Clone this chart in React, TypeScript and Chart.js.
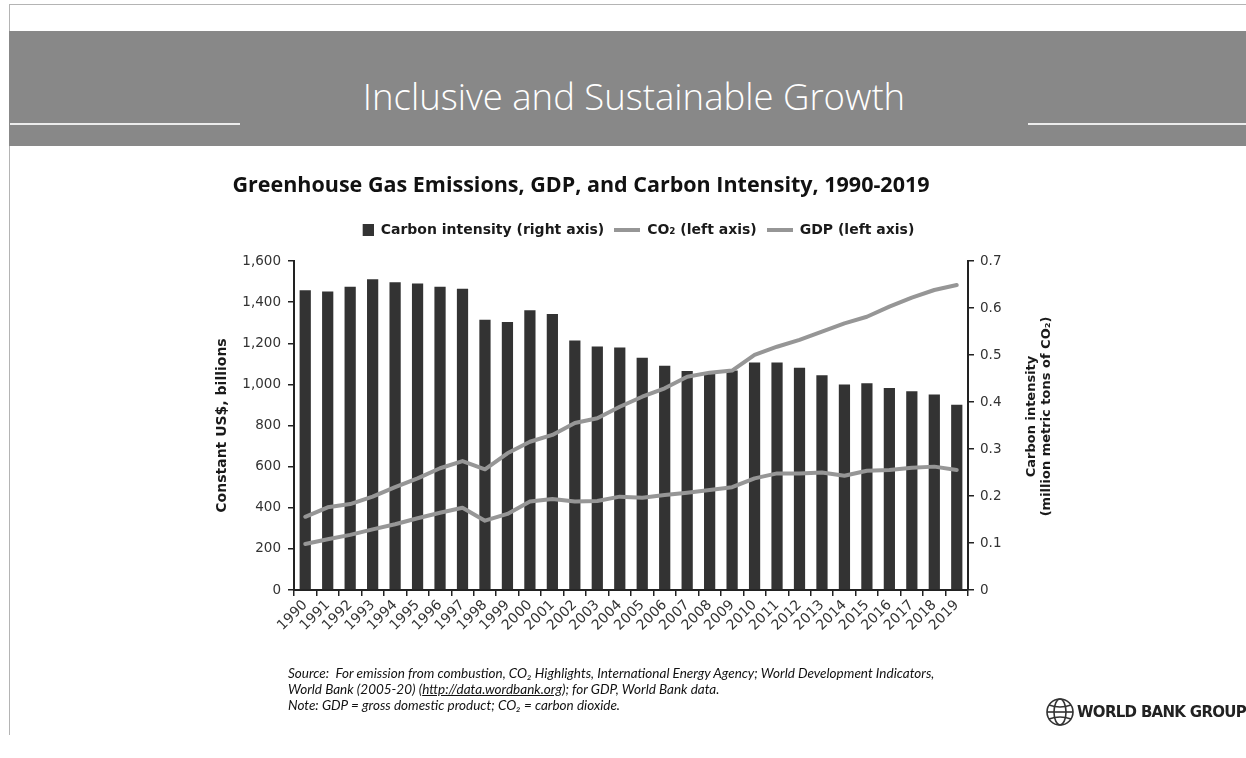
import React, { useEffect, useRef } from 'react';
import { Chart, registerables } from 'chart.js';

Chart.register(...registerables);

// ---------- data ----------
const years = [
  '1990', '1991', '1992', '1993', '1994', '1995', '1996', '1997', '1998', '1999',
  '2000', '2001', '2002', '2003', '2004', '2005', '2006', '2007', '2008', '2009',
  '2010', '2011', '2012', '2013', '2014', '2015', '2016', '2017', '2018', '2019',
];
const carbonIntensity = [
  0.638, 0.635, 0.645, 0.661, 0.655, 0.652, 0.645, 0.641, 0.575, 0.570,
  0.595, 0.587, 0.531, 0.518, 0.516, 0.494, 0.477, 0.466, 0.462, 0.467,
  0.484, 0.484, 0.473, 0.457, 0.437, 0.440, 0.430, 0.423, 0.416, 0.394,
];
const co2 = [
  224, 247, 268, 295, 320, 349, 376, 400, 337, 370,
  430, 443, 430, 433, 454, 449, 462, 473, 486, 500,
  543, 567, 567, 571, 556, 580, 584, 595, 600, 584,
];
const gdp = [
  356, 402, 418, 454, 500, 543, 592, 627, 587, 665,
  721, 754, 812, 835, 891, 940, 981, 1037, 1057, 1067,
  1143, 1183, 1216, 1256, 1297, 1329, 1378, 1422, 1459, 1483,
];
const leftTickValues = [0, 200, 400, 600, 800, 1000, 1200, 1400, 1600];
const leftTickLabels = ['0', '200', '400', '600', '800', '1,000', '1,200', '1,400', '1,600'];
const rightTickValues = [0, 0.1, 0.2, 0.3, 0.4, 0.5, 0.6, 0.7];
const rightTickLabels = ['0', '0.1', '0.2', '0.3', '0.4', '0.5', '0.6', '0.7'];
const seriesNames = ['Carbon intensity (right axis)', 'CO\u2082 (left axis)', 'GDP (left axis)'];
const chartTitle = 'Greenhouse Gas Emissions, GDP, and Carbon Intensity, 1990-2019';
const leftAxisTitle = 'Constant US$, billions';
const rightAxisTitle = ['Carbon intensity', '(million metric tons of CO\u2082)'];
const slideTitle = 'Inclusive and Sustainable Growth';
const logoText = 'WORLD BANK GROUP';

// ---------- styles ----------
const BAR_COLOR = '#333333';
const LINE_COLOR = '#969696';
const AXIS_COLOR = '#222222';
const TEXT_COLOR = '#1a1a1a';
const TICK_COLOR = '#333333';
const SANS = '"DejaVu Sans", sans-serif';
const TITLE_FONT = '"Open Sans", "Noto Sans", sans-serif';
const NOTE_FONT = 'Lato, "Open Sans", sans-serif';

const axisTitlePlugin = {
  id: 'axisTitles',
  afterDraw(chart: any) {
    const { ctx, chartArea } = chart;
    const cy = (chartArea.top + chartArea.bottom) / 2;
    ctx.save();
    ctx.fillStyle = TEXT_COLOR;
    ctx.textAlign = 'center';
    ctx.textBaseline = 'middle';
    ctx.font = 'bold 14px ' + SANS;
    ctx.save();
    ctx.translate(chartArea.left - 72, cy);
    ctx.rotate(-Math.PI / 2);
    ctx.fillText(leftAxisTitle, 0, 0);
    ctx.restore();
    ctx.font = 'bold 13px ' + SANS;
    ctx.save();
    ctx.translate(chartArea.right + 71, cy - 9);
    ctx.rotate(-Math.PI / 2);
    rightAxisTitle.forEach((t, i) => ctx.fillText(t, 0, (i - 0.5) * 15));
    ctx.restore();
    ctx.restore();
  },
};

function makeIcon(w: number, h: number, draw: (g: CanvasRenderingContext2D) => void) {
  const c = document.createElement('canvas');
  c.width = w;
  c.height = h;
  const g = c.getContext('2d')!;
  draw(g);
  return c;
}

function GreenhouseChart() {
  const ref = useRef<HTMLCanvasElement>(null);
  useEffect(() => {
    const canvas = ref.current!;
    const squareIcon = makeIcon(26, 12, (g) => {
      g.fillStyle = BAR_COLOR;
      g.fillRect(15, 0, 11, 12);
    });
    const lineIcon = makeIcon(26, 4, (g) => {
      g.fillStyle = LINE_COLOR;
      g.fillRect(0, 0, 26, 4);
    });
    const chart = new Chart(canvas, {
      type: 'bar',
      data: {
        labels: years,
        datasets: [
          {
            type: 'bar',
            label: seriesNames[0],
            data: carbonIntensity,
            yAxisID: 'yRight',
            backgroundColor: BAR_COLOR,
            barPercentage: 0.5,
            categoryPercentage: 1,
            order: 2,
          },
          {
            type: 'line',
            label: seriesNames[1],
            data: co2,
            yAxisID: 'yLeft',
            borderColor: LINE_COLOR,
            borderWidth: 4,
            pointRadius: 0,
            borderJoinStyle: 'round',
            borderCapStyle: 'round',
            order: 1,
          },
          {
            type: 'line',
            label: seriesNames[2],
            data: gdp,
            yAxisID: 'yLeft',
            borderColor: LINE_COLOR,
            borderWidth: 4,
            pointRadius: 0,
            borderJoinStyle: 'round',
            borderCapStyle: 'round',
            order: 1,
          },
        ] as any,
      },
      options: {
        responsive: false,
        animation: false,
        devicePixelRatio: 1,
        events: [],
        layout: { padding: { top: 0, left: 0, right: 84, bottom: 0 } },
        plugins: {
          tooltip: { enabled: false },
          title: {
            display: true,
            text: chartTitle,
            color: '#111111',
            font: { family: TITLE_FONT, size: 21.5, weight: 'bold', lineHeight: 1.2 },
            padding: { top: 173, bottom: 14.2 },
          },
          subtitle: {
            display: true,
            text: '',
            weight: 500,
            fullSize: false,
            font: { size: 14, lineHeight: 1 },
            padding: 0,
          } as any,
          legend: {
            display: true,
            position: 'top',
            fullSize: false,
            labels: {
              usePointStyle: true,
              pointStyleWidth: 26,
              boxHeight: 14,
              padding: 10,
              color: TEXT_COLOR,
              font: { family: SANS, size: 14, weight: 'bold' },
              generateLabels: () => [
                { text: seriesNames[0], pointStyle: squareIcon, fillStyle: BAR_COLOR, strokeStyle: BAR_COLOR, lineWidth: 0, hidden: false, datasetIndex: 0, fontColor: TEXT_COLOR },
                { text: seriesNames[1], pointStyle: lineIcon, fillStyle: LINE_COLOR, strokeStyle: LINE_COLOR, lineWidth: 0, hidden: false, datasetIndex: 1, fontColor: TEXT_COLOR },
                { text: seriesNames[2], pointStyle: lineIcon, fillStyle: LINE_COLOR, strokeStyle: LINE_COLOR, lineWidth: 0, hidden: false, datasetIndex: 2, fontColor: TEXT_COLOR },
              ] as any,
            },
          } as any,
        },
        scales: {
          x: {
            type: 'category',
            offset: true,
            grid: {
              display: true,
              offset: true,
              drawOnChartArea: false,
              drawTicks: true,
              tickLength: 6,
              color: AXIS_COLOR,
              lineWidth: 1.5,
            },
            border: { display: true, color: AXIS_COLOR, width: 2 },
            ticks: {
              autoSkip: false,
              maxRotation: 45,
              minRotation: 45,
              padding: 1,
              color: TICK_COLOR,
              font: { family: SANS, size: 14 },
            },
            afterFit: (s: any) => { s.height = 758 - 590; },
          },
          yLeft: {
            type: 'linear',
            position: 'left',
            min: 0,
            max: 1600,
            afterBuildTicks: (s: any) => { s.ticks = leftTickValues.map((v) => ({ value: v })); },
            grid: {
              display: true,
              drawOnChartArea: false,
              drawTicks: true,
              tickLength: 6,
              color: AXIS_COLOR,
              lineWidth: 1.5,
            },
            border: { display: true, color: AXIS_COLOR, width: 2 },
            ticks: {
              padding: 7,
              color: TICK_COLOR,
              font: { family: SANS, size: 13.5 },
              callback: (_v: any, i: number) => leftTickLabels[i],
            },
            afterFit: (s: any) => { s.width = 294; },
          },
          yRight: {
            type: 'linear',
            position: 'right',
            min: 0,
            max: 0.7,
            afterBuildTicks: (s: any) => { s.ticks = rightTickValues.map((v) => ({ value: v })); },
            grid: {
              display: true,
              drawOnChartArea: false,
              drawTicks: true,
              tickLength: 6,
              color: AXIS_COLOR,
              lineWidth: 1.5,
            },
            border: { display: true, color: AXIS_COLOR, width: 2 },
            ticks: {
              padding: 6,
              color: TICK_COLOR,
              font: { family: SANS, size: 13.5 },
              callback: (_v: any, i: number) => rightTickLabels[i],
            },
            afterFit: (s: any) => { s.width = 1162 - 968; },
          },
        },
      } as any,
      plugins: [axisTitlePlugin],
    });
    return () => chart.destroy();
  }, []);
  return (
    <canvas
      ref={ref}
      width={1246}
      height={758}
      style={{ position: 'absolute', left: 0, top: 0, width: 1246, height: 758 }}
    />
  );
}

export default function App() {
  return (
    <div
      style={{
        position: 'absolute',
        left: 0,
        top: 0,
        width: 1246,
        height: 758,
        background: '#ffffff',
        overflow: 'hidden',
      }}
    >
      <div style={{ position: 'absolute', left: 9, top: 4, width: 1237, height: 1, background: '#b4b4b4' }} />
      <div style={{ position: 'absolute', left: 9, top: 4, width: 1, height: 731, background: '#b4b4b4' }} />
      <div style={{ position: 'absolute', left: 9, top: 31, width: 1237, height: 115, background: '#888888' }} />
      <div
        style={{
          position: 'absolute',
          left: 0,
          top: 73,
          width: 1268,
          height: 46,
          lineHeight: '46px',
          textAlign: 'center',
          color: '#ffffff',
          fontFamily: TITLE_FONT,
          fontWeight: 300,
          fontSize: 36.5,
          whiteSpace: 'nowrap',
        }}
      >
        {slideTitle}
      </div>
      <div style={{ position: 'absolute', left: 10, top: 123, width: 230, height: 2, background: '#ececec' }} />
      <div style={{ position: 'absolute', left: 1028, top: 123, width: 218, height: 2, background: '#ececec' }} />
      <GreenhouseChart />
      <div
        style={{
          position: 'absolute',
          left: 288,
          top: 665,
          fontFamily: NOTE_FONT,
          fontStyle: 'italic',
          fontSize: 13.5,
          lineHeight: '16px',
          color: '#111111',
          whiteSpace: 'nowrap',
        }}
      >
        <div>Source:&nbsp; For emission from combustion, CO{'\u2082'} Highlights, International Energy Agency; World Development Indicators,</div>
        <div>
          World Bank (2005-20) (<span style={{ textDecoration: 'underline' }}>http://data.wordbank.org</span>); for GDP, World Bank data.
        </div>
        <div>Note: GDP = gross domestic product; CO{'\u2082'} = carbon dioxide.</div>
      </div>
      <svg style={{ position: 'absolute', left: 1045, top: 697 }} width={30} height={30} viewBox="0 0 30 30">
        <g fill="none" stroke="#333" strokeWidth={1.6}>
          <circle cx={15} cy={15} r={13} />
          <ellipse cx={15} cy={15} rx={6} ry={13} />
          <line x1={2} y1={15} x2={28} y2={15} />
          <path d="M4 8 Q15 12 26 8" />
          <path d="M4 22 Q15 18 26 22" />
        </g>
      </svg>
      <div
        style={{
          position: 'absolute',
          left: 1077,
          top: 702,
          fontFamily: SANS,
          fontWeight: 'bold',
          fontSize: 15,
          letterSpacing: -0.7,
          lineHeight: '20px',
          color: '#222',
          whiteSpace: 'nowrap',
        }}
      >
        {logoText}
      </div>
    </div>
  );
}
